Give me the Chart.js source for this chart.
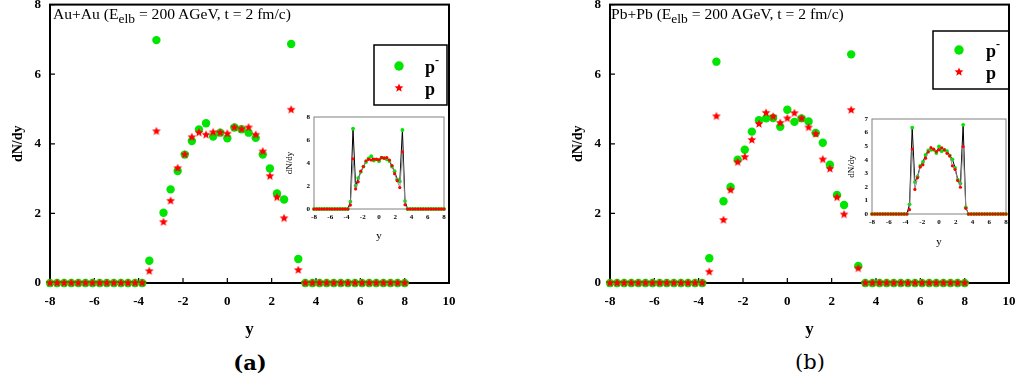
<!DOCTYPE html>
<html>
<head>
<meta charset="utf-8">
<script src="https://cdn.jsdelivr.net/npm/chart.js@4.4.0/dist/chart.umd.min.js"></script>
<style>
  html, body { margin: 0; padding: 0; background: #fff; }
  body { width: 1019px; height: 383px; position: relative; overflow: hidden; font-family: "Liberation Serif", serif; }
  canvas { position: absolute; }
  .ttl { position: absolute; font-size: 15.6px; line-height: 18px; white-space: nowrap; color: #000; }
  .ttl sub { font-size: 13.5px; vertical-align: -4px; line-height: 0; }
  .cap { position: absolute; font-family: "DejaVu Serif", serif; font-size: 21px; transform: translate(-50%, -50%); color: #000; }
</style>
</head>
<body>
<canvas id="mainA" width="500" height="345" style="left:0;top:0"></canvas>
<canvas id="mainB" width="459" height="345" style="left:560px;top:0"></canvas>
<canvas id="insetA" width="170" height="140" style="left:280px;top:108px"></canvas>
<canvas id="insetB" width="179" height="145" style="left:840px;top:110px"></canvas>
<div class="ttl" style="left:53px;top:5px">Au+Au (E<sub>elb</sub> = 200 AGeV, t = 2 fm/c)</div>
<div class="ttl" style="left:611px;top:5px">Pb+Pb (E<sub>elb</sub> = 200 AGeV, t = 2 fm/c)</div>
<div class="cap" style="left:250px;top:362px;font-weight:bold">(a)</div>
<div class="cap" style="left:810px;top:362px">(b)</div>
<script>
// rapidity bins
const rapidity = [-8, -7.68, -7.36, -7.04, -6.72, -6.4, -6.08, -5.76, -5.44, -5.12, -4.8, -4.48, -4.16, -3.84,
  -3.52, -3.2, -2.88, -2.56, -2.24, -1.92, -1.6, -1.28, -0.96, -0.64, -0.32, 0, 0.32, 0.64, 0.96, 1.28, 1.6,
  1.92, 2.24, 2.56, 2.88, 3.2, 3.52, 3.84, 4.16, 4.48, 4.8, 5.12, 5.44, 5.76, 6.08, 6.4, 6.72, 7.04, 7.36, 7.68, 8];

// (a) Au+Au
const auAntiProton = [0, 0, 0, 0, 0, 0, 0, 0, 0, 0, 0, 0, 0, 0,
  0.64, 6.98, 2.02, 2.69, 3.22, 3.69, 4.08, 4.41, 4.59, 4.21, 4.32, 4.16, 4.47, 4.42, 4.32, 4.17, 3.69, 3.29, 2.57, 2.40, 6.87, 0.69,
  0, 0, 0, 0, 0, 0, 0, 0, 0, 0, 0, 0, 0, 0, 0];
const auProton = [0, 0, 0, 0, 0, 0, 0, 0, 0, 0, 0, 0, 0, 0,
  0.34, 4.36, 1.75, 2.36, 3.30, 3.69, 4.19, 4.32, 4.26, 4.33, 4.32, 4.29, 4.47, 4.42, 4.47, 4.26, 3.78, 3.07, 2.46, 1.86, 4.98, 0.37,
  0, 0, 0, 0, 0, 0, 0, 0, 0, 0, 0, 0, 0, 0, 0];

// (b) Pb+Pb
const pbAntiProton = [0, 0, 0, 0, 0, 0, 0, 0, 0, 0, 0, 0, 0, 0,
  0.71, 6.36, 2.35, 2.76, 3.54, 3.83, 4.35, 4.68, 4.73, 4.74, 4.49, 4.98, 4.63, 4.73, 4.64, 4.31, 4.03, 3.40, 2.53, 2.24, 6.57, 0.49,
  0, 0, 0, 0, 0, 0, 0, 0, 0, 0, 0, 0, 0, 0, 0];
const pbProton = [0, 0, 0, 0, 0, 0, 0, 0, 0, 0, 0, 0, 0, 0,
  0.32, 4.79, 1.81, 2.67, 3.47, 3.62, 4.11, 4.57, 4.89, 4.78, 4.60, 4.73, 4.88, 4.73, 4.47, 4.28, 3.55, 3.28, 2.46, 1.97, 4.97, 0.42,
  0, 0, 0, 0, 0, 0, 0, 0, 0, 0, 0, 0, 0, 0, 0];

const seriesNames = ['p\u207B', 'p'];

// tick labels
const mainXTicks = [-8, -6, -4, -2, 0, 2, 4, 6, 8, 10];
const mainYTicks = [0, 2, 4, 6, 8];
const insetXTicks = [-8, -6, -4, -2, 0, 2, 4, 6, 8];
const insetAYTicks = [0, 2, 4, 6, 8];
const insetBYTicks = [0, 1, 2, 3, 4, 5, 6, 7];

const GREEN = '#00e600';
const RED = '#ff0000';
const SERIF = 'Liberation Serif';

function makeStar(r, color) {
  const c = document.createElement('canvas');
  const s = Math.ceil(r * 2 + 2);
  c.width = s;
  c.height = s;
  const g = c.getContext('2d');
  g.fillStyle = color;
  g.beginPath();
  for (let k = 0; k < 10; k++) {
    const rad = k % 2 === 0 ? r : r * 0.45;
    const a = -Math.PI / 2 + k * Math.PI / 5;
    g.lineTo(s / 2 + rad * Math.cos(a), s / 2 + rad * Math.sin(a));
  }
  g.closePath();
  g.fill();
  return c;
}
const starImg = makeStar(4.6, RED);

const toPoints = ys => ys.map((v, i) => ({ x: rapidity[i], y: v }));
const fixedTicks = arr => axis => { axis.ticks = arr.map(v => ({ value: v })); };

// plot frame + inward ticks
const framePlugin = {
  id: 'frame',
  beforeDatasetsDraw(chart, args, o) {
    const { ctx, chartArea: a, scales } = chart;
    ctx.save();
    ctx.strokeStyle = o.color;
    ctx.lineWidth = o.width;
    ctx.strokeRect(a.left, a.top, a.right - a.left, a.bottom - a.top);
    if (o.tick) {
      ctx.beginPath();
      scales.x.ticks.forEach(t => {
        const px = scales.x.getPixelForValue(t.value);
        ctx.moveTo(px, a.bottom);
        ctx.lineTo(px, a.bottom - o.tick);
      });
      scales.y.ticks.forEach(t => {
        const py = scales.y.getPixelForValue(t.value);
        ctx.moveTo(a.left, py);
        ctx.lineTo(a.left + o.tick, py);
      });
      ctx.lineWidth = 1.2;
      ctx.stroke();
    }
    ctx.restore();
  }
};

// boxed legend inside the plot
const keyPlugin = {
  id: 'keyBox',
  afterDraw(chart, args, o) {
    const ctx = chart.ctx;
    ctx.save();
    ctx.lineWidth = 1.5;
    ctx.strokeStyle = '#000';
    ctx.strokeRect(o.x, o.y, o.w, o.h);
    chart.data.datasets.forEach((ds, i) => {
      const my = o.rows[i];
      ctx.fillStyle = ds.backgroundColor;
      Chart.helpers.drawPoint(ctx, { pointStyle: ds.pointStyle, radius: ds.pointRadius + 0.5, rotation: 0, borderWidth: 0 }, o.markX, my);
      ctx.fillStyle = '#000';
      ctx.textBaseline = 'alphabetic';
      ctx.font = 'bold 18px "' + SERIF + '"';
      const label = ds.label;
      const sup = label.endsWith('\u207B');
      ctx.fillText('p', o.textX, my + 7);
      if (sup) {
        ctx.font = 'bold 12px "' + SERIF + '"';
        ctx.fillText('-', o.textX + 10, my - 2);
      }
    });
    ctx.restore();
  }
};

function mainChart(id, green, red, key) {
  return new Chart(document.getElementById(id), {
    type: 'scatter',
    data: {
      datasets: [
        { label: seriesNames[0], data: toPoints(green), backgroundColor: GREEN, borderColor: GREEN,
          pointStyle: 'circle', pointRadius: 4.2, borderWidth: 0, order: 1, clip: false },
        { label: seriesNames[1], data: toPoints(red), backgroundColor: RED, borderColor: RED,
          pointStyle: starImg, pointRadius: 4.6, borderWidth: 0, order: 0, clip: false }
      ]
    },
    options: {
      responsive: false,
      animation: false,
      events: [],
      layout: { padding: { top: 3, right: key.right, left: 0, bottom: 0 } },
      plugins: {
        legend: { display: false },
        tooltip: { enabled: false },
        frame: { color: '#000', width: 2, tick: 5 },
        keyBox: key
      },
      scales: {
        x: {
          type: 'linear', min: -8, max: 10,
          afterBuildTicks: fixedTicks(mainXTicks),
          ticks: { color: '#000', padding: 11, font: { family: SERIF, weight: 'bold', size: 13 } },
          grid: { display: false, drawTicks: false },
          border: { display: false },
          title: { display: true, text: 'y', color: '#000', font: { family: SERIF, weight: 'bold', size: 17 }, padding: { top: 0, bottom: 5 } },
          afterFit: s => { s.height = 62; s.paddingLeft = 0; s.paddingRight = 0; }
        },
        y: {
          type: 'linear', min: 0, max: 8,
          afterBuildTicks: fixedTicks(mainYTicks),
          ticks: { color: '#000', padding: 9, font: { family: SERIF, weight: 'bold', size: 13 } },
          grid: { display: false, drawTicks: false },
          border: { display: false },
          title: { display: true, text: 'dN/dy', color: '#000', font: { family: SERIF, weight: 'bold', size: 14 }, padding: { top: 10, bottom: 0 } },
          afterFit: s => { s.width = 50; s.paddingTop = 0; s.paddingBottom = 0; }
        }
      }
    },
    plugins: [framePlugin, keyPlugin]
  });
}

function insetChart(id, green, red, yTicks, yMax, box) {
  return new Chart(document.getElementById(id), {
    type: 'scatter',
    data: {
      datasets: [
        { label: seriesNames[0], data: toPoints(green), showLine: true, borderColor: '#000', borderWidth: 1,
          backgroundColor: GREEN, pointBorderWidth: 0, pointRadius: 1.9, order: 1, clip: false },
        { label: seriesNames[1], data: toPoints(red), showLine: true, borderColor: '#8c8c8c', borderWidth: 1,
          backgroundColor: RED, pointBorderWidth: 0, pointRadius: 1.6, order: 0, clip: false }
      ]
    },
    options: {
      responsive: false,
      animation: false,
      events: [],
      layout: { padding: { top: box.top, right: box.right, left: 0, bottom: 0 } },
      plugins: {
        legend: { display: false },
        tooltip: { enabled: false },
        frame: { color: '#808080', width: 1, tick: 0 }
      },
      scales: {
        x: {
          type: 'linear', min: -8, max: 8,
          afterBuildTicks: fixedTicks(insetXTicks),
          ticks: { color: '#000', padding: 4, font: { family: SERIF, weight: 'bold', size: 7 } },
          grid: { display: false, drawTicks: false },
          border: { display: false },
          title: { display: true, text: 'y', color: '#000', font: { family: SERIF, size: 11 }, padding: { top: 0, bottom: box.xTitlePad } },
          afterFit: s => { s.height = box.xHeight; s.paddingLeft = 0; s.paddingRight = 0; }
        },
        y: {
          type: 'linear', min: 0, max: yMax,
          afterBuildTicks: fixedTicks(yTicks),
          ticks: { color: '#000', padding: 4, font: { family: SERIF, weight: 'bold', size: 7 } },
          grid: { display: false, drawTicks: false },
          border: { display: false },
          title: { display: true, text: 'dN/dy', color: '#000', font: { family: SERIF, size: 9 }, padding: { top: box.yTitlePad, bottom: 0 } },
          afterFit: s => { s.width = box.yWidth; s.paddingTop = 0; s.paddingBottom = 0; }
        }
      }
    },
    plugins: [framePlugin]
  });
}

mainChart('mainA', auAntiProton, auProton,
  { x: 374, y: 45, w: 73, h: 60, markX: 399, rows: [66, 88], textX: 425, right: 51 });
mainChart('mainB', pbAntiProton, pbProton,
  { x: 373, y: 31, w: 76, h: 58, markX: 399, rows: [50, 72], textX: 426, right: 10 });

insetChart('insetA', auAntiProton, auProton, insetAYTicks, 8,
  { top: 9, right: 6, xHeight: 39, yWidth: 34, xTitlePad: 5, yTitlePad: 4.6 });
insetChart('insetB', pbAntiProton, pbProton, insetBYTicks, 7,
  { top: 9, right: 13, xHeight: 41, yWidth: 32, xTitlePad: 6, yTitlePad: 6.6 });
</script>
</body>
</html>
